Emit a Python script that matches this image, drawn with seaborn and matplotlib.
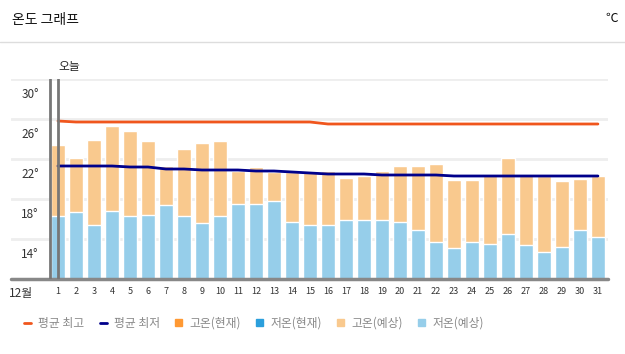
import numpy as np
import pandas as pd
import matplotlib
matplotlib.use("Agg")
import matplotlib.pyplot as plt
import seaborn as sns
from matplotlib.lines import Line2D
from matplotlib.patches import Patch

sns.set_style("white")
plt.rcParams['font.family'] = ['Noto Sans CJK KR', 'DejaVu Sans']

# ---------------- data ----------------
days = [str(d) for d in range(1, 32)]
high_fcst = [23.4, 22.1, 23.9, 25.3, 24.8, 23.8, 21.3, 23.0, 23.6, 23.8,
             20.8, 21.2, 20.7, 20.7, 20.7, 20.8, 20.1, 20.3, 20.8, 21.3,
             21.3, 21.5, 19.9, 19.9, 20.5, 22.1, 20.5, 20.3, 19.8, 20.0, 20.3]
low_fcst = [16.3, 16.7, 15.4, 16.8, 16.3, 16.4, 17.4, 16.3, 15.6, 16.3,
            17.5, 17.5, 17.8, 15.7, 15.4, 15.4, 15.9, 15.9, 15.9, 15.7,
            14.9, 13.7, 13.1, 13.7, 13.5, 14.5, 13.4, 12.7, 13.2, 14.9, 14.2]
avg_high = [25.8] + [25.7] * 14 + [25.5] * 16
avg_low = [21.3, 21.3, 21.3, 21.3, 21.2, 21.2, 21.0, 21.0, 20.9, 20.9,
           20.9, 20.8, 20.8, 20.7, 20.6, 20.5, 20.5, 20.5, 20.4, 20.4,
           20.4, 20.4, 20.3, 20.3, 20.3, 20.3, 20.3, 20.3, 20.3, 20.3, 20.3]
y_ticks = [14, 18, 22, 26, 30]
y_labels = ["14°", "18°", "22°", "26°", "30°"]
legend_labels = ["평균 최고", "평균 최저", "고온(현재)", "저온(현재)", "고온(예상)", "저온(예상)"]

df = pd.DataFrame({"day": days, "high": high_fcst, "low": low_fcst,
                   "avg_high": avg_high, "avg_low": avg_low})

C_HIGH_LINE = "#f0561d"
C_LOW_LINE = "#00008b"
C_HIGH_NOW = "#ff9933"
C_LOW_NOW = "#2b9fdc"
C_HIGH_FC = "#f9c98e"
C_LOW_FC = "#96ceea"

fig = plt.figure(figsize=(6.25, 3.54), dpi=100)
ax = fig.add_axes([11 / 625, 1 - 279 / 354, 597 / 625, 200 / 354])

# gridlines
for v in y_ticks:
    ax.axhline(v, color="#eeeeee", lw=2, zorder=0)

sns.barplot(data=df, x="day", y="high", order=days, color=C_HIGH_FC,
            width=0.78, saturation=1, ax=ax, zorder=2)
sns.barplot(data=df, x="day", y="low", order=days, color=C_LOW_FC,
            width=0.78, saturation=1, ax=ax, zorder=3)
xs = np.arange(len(days))
sns.lineplot(x=xs, y=df["avg_high"], color=C_HIGH_LINE, lw=2, ax=ax, zorder=4)
sns.lineplot(x=xs, y=df["avg_low"], color=C_LOW_LINE, lw=2, ax=ax, zorder=4)

ax.set_xlim(-2.61, 30.56)
ax.set_ylim(10, 30)
for s in ax.spines.values():
    s.set_visible(False)
ax.axhline(10, color="#888888", lw=2.5, zorder=5, clip_on=False)
ax.axvline(-0.44, color="#777777", lw=2, zorder=5)
ax.axvline(0, color="#777777", lw=2, zorder=5)
ax.text(0, 30.6, "오늘", ha="left", va="bottom", fontsize=8.5, color="#222222")

ax.set_xlabel("")
ax.set_ylabel("")
ax.set_yticks([])
ax.set_xticks(xs)
ax.set_xticklabels(days, fontsize=6.5, color="#333333")
ax.tick_params(axis="x", length=0, pad=6)
for v, lab in zip(y_ticks, y_labels):
    ax.text(-1.55, v - 1.5, lab, ha="center", va="center", fontsize=8.5, color="#333333")
ax.text(-2.05, 8.6, "12월", ha="center", va="center", fontsize=8.5, color="#333333",
        clip_on=False)

# header
fig.text(12 / 625, 1 - 20 / 354, "온도 그래프", ha="left", va="center", fontsize=10, color="#111111")
fig.text(612 / 625, 1 - 18 / 354, "℃", ha="center", va="center", fontsize=9, color="#111111")
fig.add_artist(Line2D([0, 1], [1 - 42 / 354] * 2, color="#dddddd", lw=1, transform=fig.transFigure))

# legend
handles = [
    Line2D([], [], color=C_HIGH_LINE, lw=2),
    Line2D([], [], color=C_LOW_LINE, lw=2),
    Patch(color=C_HIGH_NOW),
    Patch(color=C_LOW_NOW),
    Patch(color=C_HIGH_FC),
    Patch(color=C_LOW_FC),
]
leg = fig.legend(handles, legend_labels, loc="center", bbox_to_anchor=(254 / 625, 1 - 323 / 354),
                 ncol=6, frameon=False, fontsize=8.5, handlelength=0.6, handleheight=0.6,
                 handletextpad=0.6, columnspacing=1.3)
for t in leg.get_texts():
    t.set_color("#888888")

fig.savefig("out.png", dpi=100)
